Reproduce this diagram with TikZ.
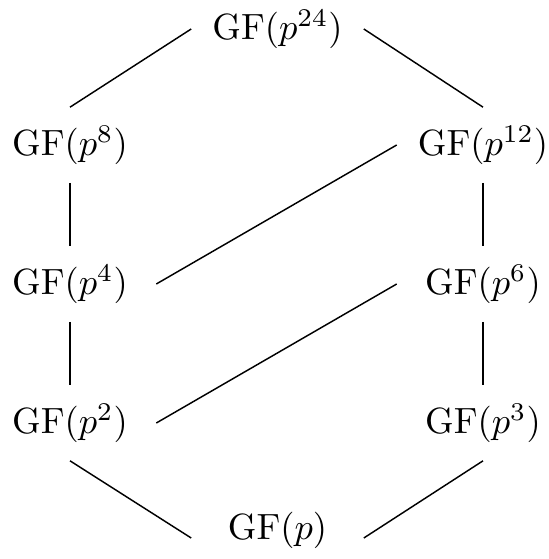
\documentclass[tikz,border=0pt]{standalone}
\usetikzlibrary{calc}
\begin{document}
\begin{tikzpicture}[x=0.274pt,y=-0.274pt,
  field/.style={inner xsep=0pt, inner ysep=4.66pt, minimum width=46.9pt,
    text height=8.5pt, text depth=2.5pt}]
\useasboundingbox (0,0) rectangle (548,559);
\node[field] (p24) at (277.5,29)  {$\mathrm{GF}(p^{24})$};
\node[field] (p8)  at (70,145)    {$\mathrm{GF}(p^{8})$};
\node[field] (p12) at (483,145)   {$\mathrm{GF}(p^{12})$};
\node[field] (p4)  at (70,284)    {$\mathrm{GF}(p^{4})$};
\node[field] (p6)  at (483,284)   {$\mathrm{GF}(p^{6})$};
\node[field] (p2)  at (70,423)    {$\mathrm{GF}(p^{2})$};
\node[field] (p3)  at (483,423)   {$\mathrm{GF}(p^{3})$};
\node[field] (p1)  at (277.5,529) {$\mathrm{GF}(p)$};
\draw (p24.west) -- (p8.north);
\draw (p24.east) -- (p12.north);
\draw (p8.south) -- (p4.north);
\draw (p4.south) -- (p2.north);
\draw (p12.south) -- (p6.north);
\draw (p6.south) -- (p3.north);
\draw (p4.east) -- (p12.west);
\draw (p2.east) -- (p6.west);
\draw (p2.south) -- ($(p1.west)+(0,9)$);
\draw (p3.south) -- ($(p1.east)+(0,9)$);
\end{tikzpicture}
\end{document}
